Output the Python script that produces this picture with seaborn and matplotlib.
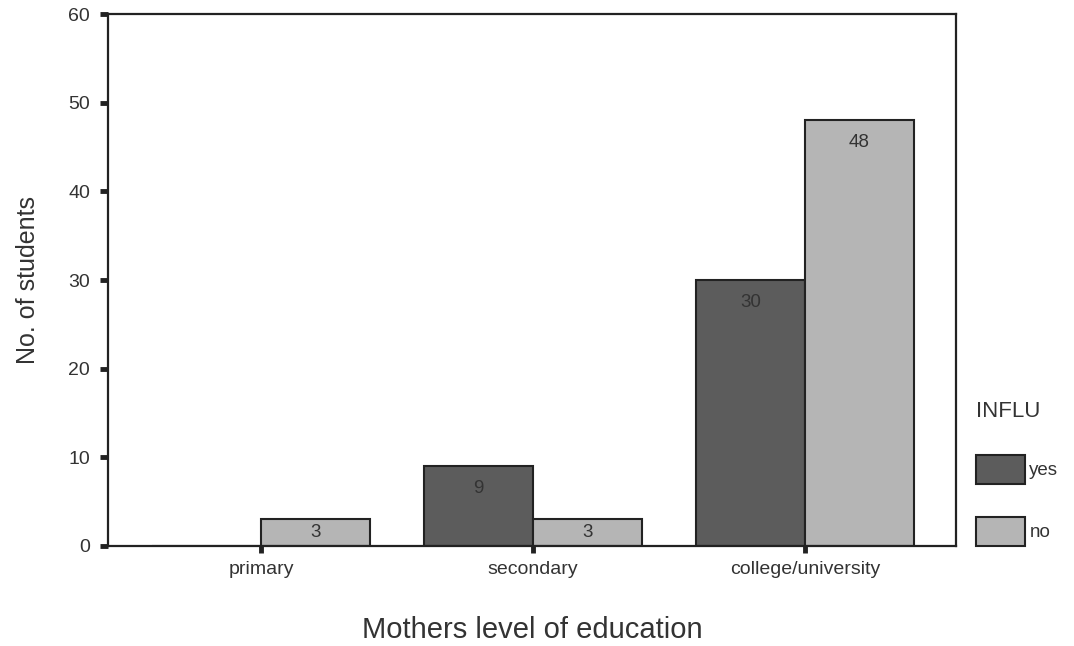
import matplotlib
matplotlib.use("Agg")
import matplotlib.pyplot as plt
import seaborn as sns
import pandas as pd

# data
levels = ["primary", "secondary", "college/university"]
yes_counts = [0, 9, 30]
no_counts = [3, 3, 48]
groups = ["yes", "no"]

df = pd.DataFrame({
    "level": levels * 2,
    "INFLU": ["yes"] * len(levels) + ["no"] * len(levels),
    "count": yes_counts + no_counts,
})

sns.set_style("white")
plt.rcParams["font.family"] = ["Liberation Sans", "DejaVu Sans"]

fig = plt.figure(figsize=(10.74, 6.46), dpi=100)
ax = fig.add_axes([0.1006, 0.1548, 0.7896, 0.8235])

sns.barplot(
    data=df, x="level", y="count", hue="INFLU",
    order=levels, hue_order=groups,
    palette={"yes": "#5c5c5c", "no": "#b5b5b5"},
    edgecolor="#222222", linewidth=1.5, width=0.8,
    saturation=1, ax=ax,
)

# value labels inside the bars, near the top
for cont in ax.containers:
    for patch in cont:
        h = patch.get_height()
        if h <= 0:
            continue
        x = patch.get_x() + patch.get_width() / 2
        ax.text(x, max(h - 2.5, h / 2), f"{h:.0f}", ha="center", va="center",
                fontsize=13.5, color="#333333")

ax.set_ylim(0, 60)
ax.set_xlim(-0.5625, 2.555)
ax.set_yticks(range(0, 61, 10))

for side in ["top", "right", "left", "bottom"]:
    ax.spines[side].set_visible(True)
    ax.spines[side].set_color("#222222")
    ax.spines[side].set_linewidth(1.6)

ax.tick_params(axis="y", direction="out", length=6, width=3.5, color="#222222",
               labelsize=14, labelcolor="#333333", pad=7, left=True)
ax.tick_params(axis="x", direction="out", length=5, width=3.5, color="#222222",
               labelsize=14, labelcolor="#333333", pad=6, bottom=True)

ax.set_xlabel("Mothers level of education", fontsize=21, color="#333333", labelpad=27)
ax.set_ylabel("No. of students", fontsize=18, color="#333333", labelpad=20)

leg = ax.legend(title="INFLU", loc="upper left", bbox_to_anchor=(1.008, 0.297),
                frameon=False, fontsize=13.5, title_fontsize=16,
                handlelength=2.6, handleheight=2.0, handletextpad=0.25,
                labelspacing=1.75, alignment="left", borderaxespad=0.3)
for t in leg.get_texts():
    t.set_color("#333333")
leg.get_title().set_color("#333333")

fig.savefig("out.png", dpi=100)
